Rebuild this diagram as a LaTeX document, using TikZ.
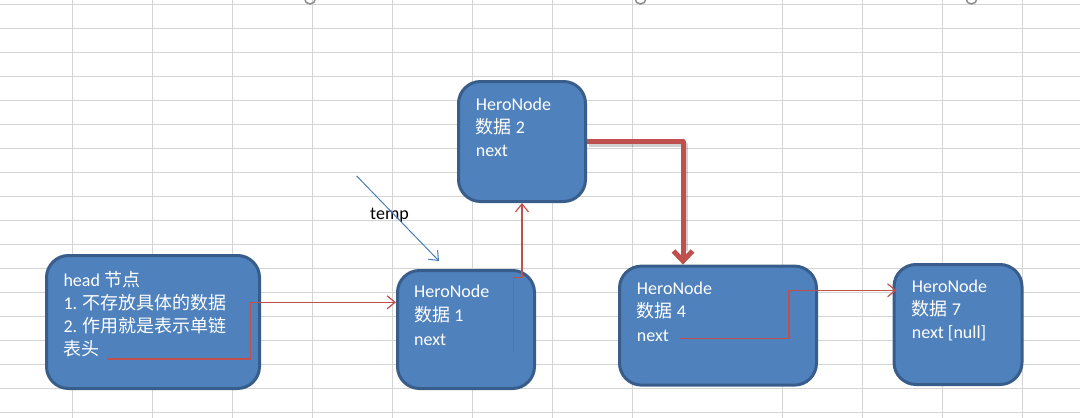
\documentclass[tikz,border=0pt]{standalone}
\usepackage{fontspec}
\setmainfont{Carlito}
\newfontfamily\cjk{Noto Sans CJK SC}
\usetikzlibrary{arrows.meta}
\definecolor{gridc}{HTML}{D4D4D4}
\definecolor{boxfill}{HTML}{4F81BD}
\definecolor{boxline}{HTML}{385D8A}
\definecolor{redl}{HTML}{C0504D}
\definecolor{bluel}{HTML}{4A7EBB}
\definecolor{handle}{HTML}{8E8E8E}
\tikzset{
  heronode/.style={draw=boxline, fill=boxfill, line width=3pt, rounded corners=22pt, inner sep=0pt},
  txt/.style={text=white, inner sep=0pt, anchor=base west, font=\fontsize{18}{22}\selectfont},
  thinred/.style={draw=redl, line width=1.2pt, -{Straight Barb[length=8pt,width=13pt]}},
  thickred/.style={draw=redl, line width=5pt, line join=round, -{Straight Barb[length=10pt,width=19pt]}},
  shadowline/.style={draw=black, opacity=0.18, line width=5pt, line join=round},
  gridline/.style={draw=gridc, line width=1pt},
}
\begin{document}
\begin{tikzpicture}[x=1pt,y=-1pt]
\useasboundingbox (0,0) rectangle (1080,418);
% grid
\foreach \k in {0,...,17} { \draw[gridline] (0,4.3+24*\k) -- (1080,4.3+24*\k); }
\foreach \xx in {72,152,232,312,392,472,552,632,782,862,942,1022} { \draw[gridline] (\xx,0) -- (\xx,418); }
% handles at top
\foreach \cx in {310,640.5,971.5} { \draw[handle, line width=1.5pt] (\cx,-1.5) circle (5.5pt); }
% boxes
\node[heronode, minimum width=213pt, minimum height=133pt] (h) at (153,322) {};
\node[heronode, minimum width=137pt, minimum height=118pt] (n1) at (466,329.5) {};
\node[heronode, minimum width=127pt, minimum height=120pt] (n2) at (522,141.5) {};
\node[heronode, minimum width=197pt, minimum height=119pt] (n4) at (718,325.6) {};
\node[heronode, minimum width=128pt, minimum height=120pt] (n7) at (958,324.5) {};
% texts
\node[txt] (h1) at (63.3,286) {head {\cjk 节点}};
\node[txt] (h2) at (63.3,309.3) {1. {\cjk 不存放具体的数据}};
\node[txt] (h3) at (63.3,332.6) {2. {\cjk 作用就是表示单链}};
\node[txt] (h4) at (63.3,355.5) {{\cjk 表头}};
\node[txt] (a1) at (414,297.7) {HeroNode};
\node[txt] (a2) at (414,321.3) {{\cjk 数据} 1};
\node[txt] (a3) at (414,345) {next};
\node[txt] (b1) at (475.7,110) {HeroNode};
\node[txt] (b2) at (475.7,133.3) {{\cjk 数据} 2};
\node[txt] (b3) at (475.7,156.7) {next};
\node[txt] (c1) at (636.7,294) {HeroNode};
\node[txt] (c2) at (636.7,317.5) {{\cjk 数据} 4};
\node[txt] (c3) at (636.7,341) {next};
\node[txt] (d1) at (911.7,292) {HeroNode};
\node[txt] (d2) at (911.7,315.3) {{\cjk 数据} 7};
\node[txt] (d3) at (911.7,338.7) {next [null]};
\node[txt, text=black] (tl) at (370,219.3) {temp};
% connector coordinates
\coordinate (hs) at (107,359);
\coordinate (hk) at (250.3,359);
\coordinate (hk2) at (250.3,302.3);
\coordinate (s1) at (513.3,352.3);
\coordinate (s1k) at (513.3,277.3);
\coordinate (s1k2) at (522,277.3);
\coordinate (tk) at (683,141.5);
\coordinate (s4) at (679,338.3);
\coordinate (s4k) at (789,338.3);
\coordinate (s4k2) at (789,290.3);
\coordinate (ts) at (356.7,176);
\coordinate (te) at (439,261);
% connectors
\draw[thinred] (hs) -- (hk) -- (hk2) -- (n1.west |- hk2);
\draw[thinred] (s1) -- (s1k) -- (s1k2) -- (s1k2 |- n2.south);
\draw[shadowline] ([shift={(2,2.5)}]n2.east) -- ([shift={(2,2.5)}]tk) -- ([shift={(2,-14)}]tk |- n4.north);
\draw[thickred] (n2.east) -- (tk) -- (tk |- n4.north);
\draw[thinred] (s4) -- (s4k) -- (s4k2) -- ([xshift=4pt]n7.west |- s4k2);
\draw[draw=bluel, line width=1pt, -{Straight Barb[length=8pt,width=13pt]}] (ts) -- (te);
\end{tikzpicture}
\end{document}
